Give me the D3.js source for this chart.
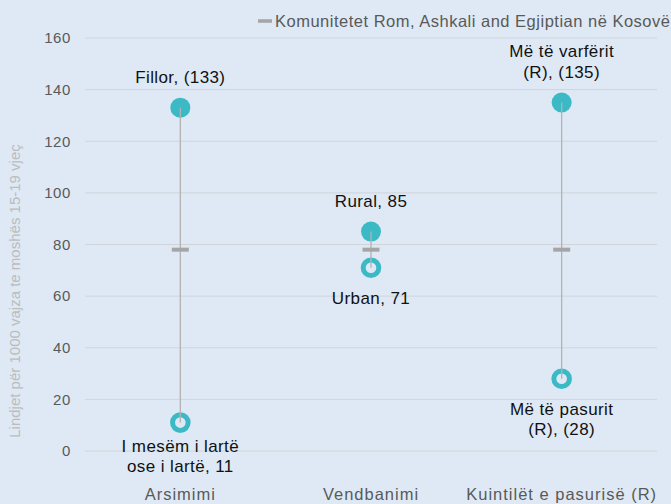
<!DOCTYPE html>
<html>
<head>
<meta charset="utf-8">
<script src="https://cdn.jsdelivr.net/npm/d3@7"></script>
<style>
  html, body { margin: 0; padding: 0; background: #dee9f5; }
  svg { display: block; font-family: "Liberation Sans", Arial, sans-serif; }
</style>
</head>
<body>
<div id="chart"></div>
<script>
const categories = ['Arsimimi', 'Vendbanimi', 'Kuintilët e pasurisë (R)']
const highValues = [133, 85, 135]
const lowValues = [11, 71, 28]
const avgValues = [78, 78, 78]
const highLabels = [['Fillor, (133)'], ['Rural, 85'], ['Më të varfërit', '(R), (135)']]
const lowLabels = [['I mesëm i lartë', 'ose i lartë, 11'], ['Urban, 71'], ['Më të pasurit', '(R), (28)']]
const yTicks = [0, 20, 40, 60, 80, 100, 120, 140, 160]
const legendLabel = 'Komunitetet Rom, Ashkali and Egjiptian në Kosovë'
const yTitle = 'Lindjet për 1000 vajza te moshës 15-19 vjeç'

const W = 671, H = 504
const margin = { top: 38, right: 14, bottom: 53, left: 85 }
const teal = '#3bbac6'
const bg = '#dee9f5'

const svg = d3.select('#chart').append('svg').attr('width', W).attr('height', H)
svg.append('rect').attr('width', W).attr('height', H).attr('fill', bg)

const x = d3.scaleBand().domain(categories).range([margin.left, W - margin.right])
const y = d3.scaleLinear().domain([0, 160]).range([H - margin.bottom, margin.top])

// gridlines
svg.append('g')
  .selectAll('line')
  .data(yTicks)
  .enter()
  .append('line')
  .attr('x1', margin.left)
  .attr('x2', W - margin.right)
  .attr('y1', d => y(d))
  .attr('y2', d => y(d))
  .attr('stroke', '#d0d4d9')
  .attr('stroke-width', 1)

// y axis labels
const yAxis = svg.append('g')
  .attr('transform', `translate(${margin.left - 14},0)`)
  .call(d3.axisLeft(y).tickValues(yTicks).tickSize(0).tickPadding(0))
yAxis.select('.domain').remove()
yAxis.selectAll('text')
  .attr('fill', '#595959').attr('font-size', 15).attr('letter-spacing', 0.6)
  .attr('font-family', 'Liberation Sans, Arial, sans-serif')

// x axis labels
const xAxis = svg.append('g')
  .attr('transform', `translate(0,${H - 4})`)
  .call(d3.axisBottom(x).tickSize(0).tickPadding(0))
xAxis.select('.domain').remove()
xAxis.selectAll('text')
  .attr('fill', '#595959').attr('font-size', 16.5).attr('dy', 0).attr('letter-spacing', 1)
  .attr('font-family', 'Liberation Sans, Arial, sans-serif')

// y title
svg.append('text')
  .attr('transform', 'translate(20,291) rotate(-90)')
  .attr('text-anchor', 'middle')
  .attr('fill', '#bcbcbc')
  .attr('font-size', 15)
  .text(yTitle)

// legend
svg.append('line')
  .attr('x1', 258).attr('x2', 272).attr('y1', 21).attr('y2', 21)
  .attr('stroke', '#a5a5a5').attr('stroke-width', 3.5)
svg.append('text')
  .attr('x', 275).attr('y', 27)
  .attr('fill', '#595959').attr('font-size', 16.5).attr('letter-spacing', 0.5)
  .text(legendLabel)

const cx = d => x(d) + x.bandwidth() / 2
const rows = categories.map((c, i) => ({ c, i, hi: highValues[i], lo: lowValues[i], avg: avgValues[i], hl: highLabels[i], ll: lowLabels[i] }))
const lowOffset = [29, 36, 36]

const g = svg.append('g').selectAll('g').data(rows).enter().append('g')

// high point (filled)
g.append('circle')
  .attr('cx', d => cx(d.c)).attr('cy', d => y(d.hi))
  .attr('r', 10).attr('fill', teal)

// low point (hollow)
g.append('circle')
  .attr('cx', d => cx(d.c)).attr('cy', d => y(d.lo))
  .attr('r', 7.8).attr('fill', bg).attr('stroke', teal).attr('stroke-width', 5)

// connecting line
g.append('line')
  .attr('x1', d => cx(d.c)).attr('x2', d => cx(d.c))
  .attr('y1', d => y(d.hi)).attr('y2', d => y(d.lo))
  .attr('stroke', '#b2b2b2').attr('stroke-width', 1.3)

// average dash
g.append('line')
  .attr('x1', d => cx(d.c) - 8.5).attr('x2', d => cx(d.c) + 8.5)
  .attr('y1', d => y(d.avg)).attr('y2', d => y(d.avg))
  .attr('stroke', '#a5a5a5').attr('stroke-width', 4)

// labels
g.each(function (d) {
  const sel = d3.select(this)
  const n = d.hl.length
  d.hl.forEach((t, j) => {
    sel.append('text')
      .attr('x', cx(d.c)).attr('y', y(d.hi) - 25 - (n - 1 - j) * 20.5)
      .attr('text-anchor', 'middle').attr('fill', '#111').attr('font-size', 17).attr('letter-spacing', 0.4)
      .text(t)
  })
  d.ll.forEach((t, j) => {
    sel.append('text')
      .attr('x', cx(d.c)).attr('y', y(d.lo) + lowOffset[d.i] + j * 20.5)
      .attr('text-anchor', 'middle').attr('fill', '#111').attr('font-size', 17).attr('letter-spacing', 0.4)
      .text(t)
  })
})
</script>
</body>
</html>
